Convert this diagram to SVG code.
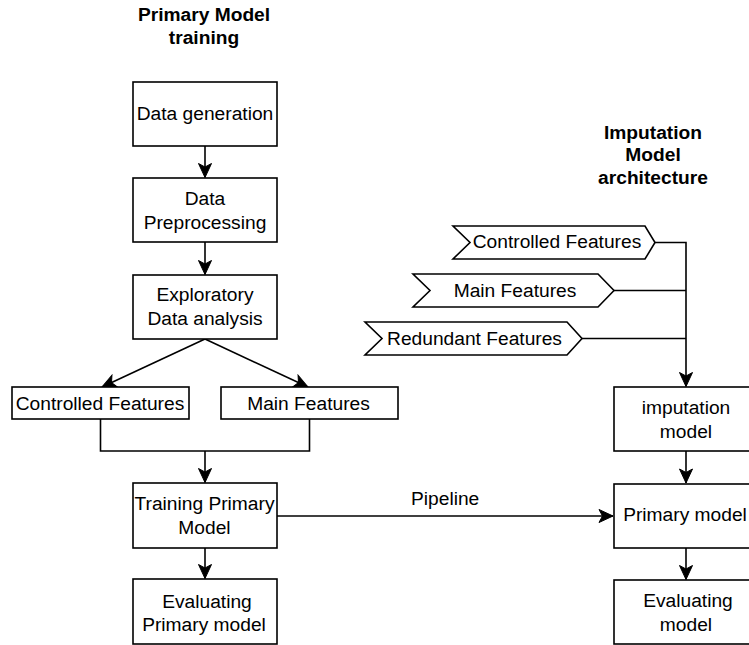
<svg xmlns="http://www.w3.org/2000/svg" width="749" height="645" viewBox="0 0 749 645">
  <style>
    .box { fill: #ffffff; stroke: #000000; stroke-width: 1.6; }
    .edge { fill: none; stroke: #000000; stroke-width: 1.6; }
    .lbl { font-family: "Liberation Sans", Arial, sans-serif; font-size: 19.2px; fill: #000000; text-anchor: middle; }
    .title { font-family: "Liberation Sans", Arial, sans-serif; font-size: 19.2px; font-weight: bold; fill: #000000; text-anchor: middle; }
    .plain { font-family: "Liberation Sans", Arial, sans-serif; font-size: 19.2px; fill: #000000; }
  </style>
  <defs>
    <marker id="arrow" viewBox="-15 -8 16 16" refX="0" refY="0" markerWidth="16" markerHeight="16" markerUnits="userSpaceOnUse" orient="auto">
      <path d="M0,0 L-14,-6.5 L-10.5,0 L-14,6.5 Z" fill="#000000" stroke="#000000" stroke-width="1"/>
    </marker>
  </defs>
  <rect width="749" height="645" fill="#ffffff"/>

  <!-- Section titles -->
  <g id="title-primary">
    <text class="title" x="204" y="20.5">Primary Model</text>
    <text class="title" x="204" y="44">training</text>
  </g>
  <g id="title-imputation">
    <text class="title" x="653" y="138.5">Imputation</text>
    <text class="title" x="653" y="161">Model</text>
    <text class="title" x="653" y="184">architecture</text>
  </g>

  <!-- Connectors -->
  <g id="connectors">
    <path class="edge" d="M205,146 V177.5" marker-end="url(#arrow)"/>
    <path class="edge" d="M205,242 V274.5" marker-end="url(#arrow)"/>
    <path class="edge" d="M205,339 L102,387" marker-end="url(#arrow)"/>
    <path class="edge" d="M205,339 L308,387" marker-end="url(#arrow)"/>
    <path class="edge" d="M100.5,419 V451 H309.5 V419"/>
    <path class="edge" d="M205,451 V482.5" marker-end="url(#arrow)"/>
    <path class="edge" d="M205,548 V578.5" marker-end="url(#arrow)"/>
    <path class="edge" d="M277,516 H613" marker-end="url(#arrow)"/>
    <text class="plain" x="411" y="505">Pipeline</text>
    <path class="edge" d="M655,242.5 H686 V386.5" marker-end="url(#arrow)"/>
    <path class="edge" d="M614,290.5 H686"/>
    <path class="edge" d="M582,338.5 H686"/>
    <path class="edge" d="M686,451 V483" marker-end="url(#arrow)"/>
    <path class="edge" d="M686,548 V579.5" marker-end="url(#arrow)"/>
  </g>

  <!-- Primary model training column -->
  <g id="data-generation">
    <rect class="box" x="133" y="82" width="144" height="64"/>
    <text class="lbl" x="205" y="120">Data generation</text>
  </g>
  <g id="data-preprocessing">
    <rect class="box" x="133" y="178" width="144" height="64"/>
    <text class="lbl" x="205" y="204.5">Data</text>
    <text class="lbl" x="205" y="228.5">Preprocessing</text>
  </g>
  <g id="exploratory-analysis">
    <rect class="box" x="133" y="275" width="144" height="64"/>
    <text class="lbl" x="205" y="301">Exploratory</text>
    <text class="lbl" x="205" y="325">Data analysis</text>
  </g>
  <g id="controlled-features">
    <rect class="box" x="12" y="387" width="177" height="32"/>
    <text class="lbl" x="100" y="409.5">Controlled Features</text>
  </g>
  <g id="main-features">
    <rect class="box" x="221" y="387" width="177" height="32"/>
    <text class="lbl" x="308.5" y="409.5">Main Features</text>
  </g>
  <g id="training-primary">
    <rect class="box" x="133" y="483" width="144" height="65"/>
    <text class="lbl" x="204.5" y="510">Training Primary</text>
    <text class="lbl" x="204.5" y="533.5">Model</text>
  </g>
  <g id="evaluating-primary">
    <rect class="box" x="133" y="579" width="144" height="65"/>
    <text class="lbl" x="207" y="607.5">Evaluating</text>
    <text class="lbl" x="204" y="630.5">Primary model</text>
  </g>

  <!-- Imputation model column -->
  <g id="in-controlled">
    <path class="box" d="M453,226 H645 L655,242.5 L645,259 H453 L470,242.5 Z"/>
    <text class="lbl" x="557" y="248">Controlled Features</text>
  </g>
  <g id="in-main">
    <path class="box" d="M413,274 H598 L614,290.5 L598,307 H413 L430,290.5 Z"/>
    <text class="lbl" x="515" y="296.5">Main Features</text>
  </g>
  <g id="in-redundant">
    <path class="box" d="M365,322 H567 L582,338.5 L567,355 H365 L382,338.5 Z"/>
    <text class="lbl" x="474.5" y="344.5">Redundant Features</text>
  </g>
  <g id="imputation-model">
    <rect class="box" x="614" y="387" width="144" height="64"/>
    <text class="lbl" x="686" y="413.5">imputation</text>
    <text class="lbl" x="686" y="437.5">model</text>
  </g>
  <g id="primary-model">
    <rect class="box" x="614" y="484" width="144" height="64"/>
    <text class="lbl" x="685" y="521">Primary model</text>
  </g>
  <g id="evaluating-model">
    <rect class="box" x="614" y="580" width="144" height="64"/>
    <text class="lbl" x="688" y="607">Evaluating</text>
    <text class="lbl" x="686" y="630.5">model</text>
  </g>
</svg>
